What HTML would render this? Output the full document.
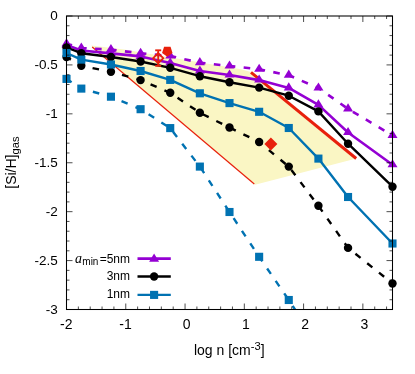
<!DOCTYPE html>
<html><head><meta charset="utf-8"><title>chart</title>
<style>
html,body{margin:0;padding:0;background:#fff;}
svg{display:block;will-change:transform;}
text{font-family:"Liberation Sans",sans-serif;fill:#000;}
</style></head><body>
<svg width="415" height="374" viewBox="0 0 415 374">
<rect width="415" height="374" fill="#fff"/>
<defs><clipPath id="c"><rect x="60" y="10" width="340" height="299.5"/></clipPath></defs>
<polygon points="92.2,47 91.4,45.6 124,49.4 205,63.2 241,69.2 250.8,71.9 356.4,158.6 255,184.8" fill="#faf6c4"/>
<line x1="92.2" y1="47" x2="254.3" y2="184" stroke="#e8200c" stroke-width="1.2"/>
<line x1="251" y1="72.3" x2="356.2" y2="158.5" stroke="#e8200c" stroke-width="3"/>
<g clip-path="url(#c)"><polyline points="66.5,43.8 81.32,48 110.95,49.6 140.59,53.3 170.23,56 199.86,62.7 229.5,66 259.14,69.3 288.77,75.2 318.41,88 348.05,108.9 392.5,135.4" fill="none" stroke="#9400d3" stroke-width="2.6" stroke-linejoin="round" stroke-dasharray="6.6 8.4" stroke-dashoffset="0.85"/>
<path d="M66.5,38.2 L71.5,46.3 L61.5,46.3 Z" fill="#9400d3"/>
<path d="M81.32,42.4 L86.32,50.5 L76.32,50.5 Z" fill="#9400d3"/>
<path d="M110.95,44 L115.95,52.1 L105.95,52.1 Z" fill="#9400d3"/>
<path d="M140.59,47.7 L145.59,55.8 L135.59,55.8 Z" fill="#9400d3"/>
<path d="M170.23,50.4 L175.23,58.5 L165.23,58.5 Z" fill="#9400d3"/>
<path d="M199.86,57.1 L204.86,65.2 L194.86,65.2 Z" fill="#9400d3"/>
<path d="M229.5,60.4 L234.5,68.5 L224.5,68.5 Z" fill="#9400d3"/>
<path d="M259.14,63.7 L264.14,71.8 L254.14,71.8 Z" fill="#9400d3"/>
<path d="M288.77,69.6 L293.77,77.7 L283.77,77.7 Z" fill="#9400d3"/>
<path d="M318.41,82.4 L323.41,90.5 L313.41,90.5 Z" fill="#9400d3"/>
<path d="M348.05,103.3 L353.05,111.4 L343.05,111.4 Z" fill="#9400d3"/>
<path d="M392.5,129.8 L397.5,137.9 L387.5,137.9 Z" fill="#9400d3"/>
<polyline points="66.5,57 81.32,65.8 110.95,71.8 140.59,80.1 170.23,92.8 199.86,112.8 229.5,127.5 259.14,142 288.77,166.6 318.41,205.8 348.05,247.9 392.5,283.5" fill="none" stroke="#000000" stroke-width="2.4" stroke-linejoin="round" stroke-dasharray="6.6 8.5" stroke-dashoffset="1.5"/>
<circle cx="66.5" cy="57" r="4.2" fill="#000000"/>
<circle cx="81.32" cy="65.8" r="4.2" fill="#000000"/>
<circle cx="110.95" cy="71.8" r="4.2" fill="#000000"/>
<circle cx="140.59" cy="80.1" r="4.2" fill="#000000"/>
<circle cx="170.23" cy="92.8" r="4.2" fill="#000000"/>
<circle cx="199.86" cy="112.8" r="4.2" fill="#000000"/>
<circle cx="229.5" cy="127.5" r="4.2" fill="#000000"/>
<circle cx="259.14" cy="142" r="4.2" fill="#000000"/>
<circle cx="288.77" cy="166.6" r="4.2" fill="#000000"/>
<circle cx="318.41" cy="205.8" r="4.2" fill="#000000"/>
<circle cx="348.05" cy="247.9" r="4.2" fill="#000000"/>
<circle cx="392.5" cy="283.5" r="4.2" fill="#000000"/>
<polyline points="66.5,78.9 81.32,88.6 110.95,96.7 140.59,109.2 170.23,128.1 199.86,166.6 229.5,212 259.14,256.8 288.77,300 318.41,345" fill="none" stroke="#0072b2" stroke-width="2.4" stroke-linejoin="round" stroke-dasharray="6.6 8.5" stroke-dashoffset="0.5"/>
<rect x="62.45" y="74.85" width="8.1" height="8.1" fill="#0072b2"/>
<rect x="77.27" y="84.55" width="8.1" height="8.1" fill="#0072b2"/>
<rect x="106.9" y="92.65" width="8.1" height="8.1" fill="#0072b2"/>
<rect x="136.54" y="105.15" width="8.1" height="8.1" fill="#0072b2"/>
<rect x="166.18" y="124.05" width="8.1" height="8.1" fill="#0072b2"/>
<rect x="195.81" y="162.55" width="8.1" height="8.1" fill="#0072b2"/>
<rect x="225.45" y="207.95" width="8.1" height="8.1" fill="#0072b2"/>
<rect x="255.09" y="252.75" width="8.1" height="8.1" fill="#0072b2"/>
<rect x="284.72" y="295.95" width="8.1" height="8.1" fill="#0072b2"/>
<rect x="314.36" y="340.95" width="8.1" height="8.1" fill="#0072b2"/></g>
<g clip-path="url(#c)"><polyline points="66.5,45 81.32,50.5 110.95,53.4 140.59,56.4 170.23,63 199.86,71 229.5,75 259.14,80.1 288.77,87.9 318.41,104.9 348.05,132.5 392.5,164.8" fill="none" stroke="#9400d3" stroke-width="2.6" stroke-linejoin="round"/>
<path d="M66.5,39.4 L71.5,47.5 L61.5,47.5 Z" fill="#9400d3"/>
<path d="M81.32,44.9 L86.32,53 L76.32,53 Z" fill="#9400d3"/>
<path d="M110.95,47.8 L115.95,55.9 L105.95,55.9 Z" fill="#9400d3"/>
<path d="M140.59,50.8 L145.59,58.9 L135.59,58.9 Z" fill="#9400d3"/>
<path d="M170.23,57.4 L175.23,65.5 L165.23,65.5 Z" fill="#9400d3"/>
<path d="M199.86,65.4 L204.86,73.5 L194.86,73.5 Z" fill="#9400d3"/>
<path d="M229.5,69.4 L234.5,77.5 L224.5,77.5 Z" fill="#9400d3"/>
<path d="M259.14,74.5 L264.14,82.6 L254.14,82.6 Z" fill="#9400d3"/>
<path d="M288.77,82.3 L293.77,90.4 L283.77,90.4 Z" fill="#9400d3"/>
<path d="M318.41,99.3 L323.41,107.4 L313.41,107.4 Z" fill="#9400d3"/>
<path d="M348.05,126.9 L353.05,135 L343.05,135 Z" fill="#9400d3"/>
<path d="M392.5,159.2 L397.5,167.3 L387.5,167.3 Z" fill="#9400d3"/>
<polyline points="66.5,47.5 81.32,53.2 110.95,57 140.59,61.5 170.23,67.8 199.86,76.2 229.5,82.2 259.14,87.6 288.77,95.7 318.41,111.4 348.05,143.7 392.5,186.7" fill="none" stroke="#000000" stroke-width="2.4" stroke-linejoin="round"/>
<circle cx="66.5" cy="47.5" r="4.2" fill="#000000"/>
<circle cx="81.32" cy="53.2" r="4.2" fill="#000000"/>
<circle cx="110.95" cy="57" r="4.2" fill="#000000"/>
<circle cx="140.59" cy="61.5" r="4.2" fill="#000000"/>
<circle cx="170.23" cy="67.8" r="4.2" fill="#000000"/>
<circle cx="199.86" cy="76.2" r="4.2" fill="#000000"/>
<circle cx="229.5" cy="82.2" r="4.2" fill="#000000"/>
<circle cx="259.14" cy="87.6" r="4.2" fill="#000000"/>
<circle cx="288.77" cy="95.7" r="4.2" fill="#000000"/>
<circle cx="318.41" cy="111.4" r="4.2" fill="#000000"/>
<circle cx="348.05" cy="143.7" r="4.2" fill="#000000"/>
<circle cx="392.5" cy="186.7" r="4.2" fill="#000000"/>
<polyline points="66.5,53 81.32,59.6 110.95,64.5 140.59,71 170.23,79.9 199.86,93.3 229.5,103.1 259.14,111.8 288.77,128 318.41,158.6 348.05,197 392.5,243.5" fill="none" stroke="#0072b2" stroke-width="2.4" stroke-linejoin="round"/>
<rect x="62.45" y="48.95" width="8.1" height="8.1" fill="#0072b2"/>
<rect x="77.27" y="55.55" width="8.1" height="8.1" fill="#0072b2"/>
<rect x="106.9" y="60.45" width="8.1" height="8.1" fill="#0072b2"/>
<rect x="136.54" y="66.95" width="8.1" height="8.1" fill="#0072b2"/>
<rect x="166.18" y="75.85" width="8.1" height="8.1" fill="#0072b2"/>
<rect x="195.81" y="89.25" width="8.1" height="8.1" fill="#0072b2"/>
<rect x="225.45" y="99.05" width="8.1" height="8.1" fill="#0072b2"/>
<rect x="255.09" y="107.75" width="8.1" height="8.1" fill="#0072b2"/>
<rect x="284.72" y="123.95" width="8.1" height="8.1" fill="#0072b2"/>
<rect x="314.36" y="154.55" width="8.1" height="8.1" fill="#0072b2"/>
<rect x="344" y="192.95" width="8.1" height="8.1" fill="#0072b2"/>
<rect x="388.45" y="239.45" width="8.1" height="8.1" fill="#0072b2"/></g>
<g stroke="#e8200c" stroke-width="1.85" fill="none"><line x1="158.2" y1="50.3" x2="158.2" y2="65.8"/><line x1="155.2" y1="50.3" x2="161.2" y2="50.3"/><line x1="155.2" y1="65.8" x2="161.2" y2="65.8"/><path d="M158.2,53.1 L163.29999999999998,58.2 L158.2,63.300000000000004 L153.1,58.2 Z"/></g>
<polygon points="167.3,56.8 162.07,53 164.07,46.85 170.53,46.85 172.53,53" fill="#e8200c"/>
<path d="M270.9,137.6 L277.4,144.1 L270.9,150.6 L264.4,144.1 Z" fill="#e8200c"/>
<path d="M66.5,309.5 v-6 M66.5,16.0 v6 M78.35,309.5 v-3 M78.35,16.0 v3 M90.21,309.5 v-3 M90.21,16.0 v3 M102.06,309.5 v-3 M102.06,16.0 v3 M113.92,309.5 v-3 M113.92,16.0 v3 M125.77,309.5 v-6 M125.77,16.0 v6 M137.63,309.5 v-3 M137.63,16.0 v3 M149.48,309.5 v-3 M149.48,16.0 v3 M161.34,309.5 v-3 M161.34,16.0 v3 M173.19,309.5 v-3 M173.19,16.0 v3 M185.05,309.5 v-6 M185.05,16.0 v6 M196.9,309.5 v-3 M196.9,16.0 v3 M208.75,309.5 v-3 M208.75,16.0 v3 M220.61,309.5 v-3 M220.61,16.0 v3 M232.46,309.5 v-3 M232.46,16.0 v3 M244.32,309.5 v-6 M244.32,16.0 v6 M256.17,309.5 v-3 M256.17,16.0 v3 M268.03,309.5 v-3 M268.03,16.0 v3 M279.88,309.5 v-3 M279.88,16.0 v3 M291.74,309.5 v-3 M291.74,16.0 v3 M303.59,309.5 v-6 M303.59,16.0 v6 M315.45,309.5 v-3 M315.45,16.0 v3 M327.3,309.5 v-3 M327.3,16.0 v3 M339.15,309.5 v-3 M339.15,16.0 v3 M351.01,309.5 v-3 M351.01,16.0 v3 M362.86,309.5 v-6 M362.86,16.0 v6 M374.72,309.5 v-3 M374.72,16.0 v3 M386.57,309.5 v-3 M386.57,16.0 v3 M66.5,16 h6 M392.5,16 h-6 M66.5,25.78 h3 M392.5,25.78 h-3 M66.5,35.57 h3 M392.5,35.57 h-3 M66.5,45.35 h3 M392.5,45.35 h-3 M66.5,55.13 h3 M392.5,55.13 h-3 M66.5,64.92 h6 M392.5,64.92 h-6 M66.5,74.7 h3 M392.5,74.7 h-3 M66.5,84.48 h3 M392.5,84.48 h-3 M66.5,94.27 h3 M392.5,94.27 h-3 M66.5,104.05 h3 M392.5,104.05 h-3 M66.5,113.83 h6 M392.5,113.83 h-6 M66.5,123.62 h3 M392.5,123.62 h-3 M66.5,133.4 h3 M392.5,133.4 h-3 M66.5,143.18 h3 M392.5,143.18 h-3 M66.5,152.97 h3 M392.5,152.97 h-3 M66.5,162.75 h6 M392.5,162.75 h-6 M66.5,172.53 h3 M392.5,172.53 h-3 M66.5,182.32 h3 M392.5,182.32 h-3 M66.5,192.1 h3 M392.5,192.1 h-3 M66.5,201.88 h3 M392.5,201.88 h-3 M66.5,211.67 h6 M392.5,211.67 h-6 M66.5,221.45 h3 M392.5,221.45 h-3 M66.5,231.23 h3 M392.5,231.23 h-3 M66.5,241.02 h3 M392.5,241.02 h-3 M66.5,250.8 h3 M392.5,250.8 h-3 M66.5,260.58 h6 M392.5,260.58 h-6 M66.5,270.37 h3 M392.5,270.37 h-3 M66.5,280.15 h3 M392.5,280.15 h-3 M66.5,289.93 h3 M392.5,289.93 h-3 M66.5,299.72 h3 M392.5,299.72 h-3 M66.5,309.5 h6 M392.5,309.5 h-6" stroke="#000" stroke-width="0.7" fill="none"/>
<rect x="66.5" y="16.0" width="326.0" height="293.5" fill="none" stroke="#000" stroke-width="1.05"/>
<text x="57.8" y="20" text-anchor="end" font-size="13.5">0</text>
<text x="57.8" y="68.92" text-anchor="end" font-size="13.5">-0.5</text>
<text x="57.8" y="117.83" text-anchor="end" font-size="13.5">-1</text>
<text x="57.8" y="166.75" text-anchor="end" font-size="13.5">-1.5</text>
<text x="57.8" y="215.67" text-anchor="end" font-size="13.5">-2</text>
<text x="57.8" y="264.58" text-anchor="end" font-size="13.5">-2.5</text>
<text x="57.8" y="313.5" text-anchor="end" font-size="13.5">-3</text>
<text x="66.2" y="329.2" text-anchor="middle" font-size="14">-2</text>
<text x="125.47" y="329.2" text-anchor="middle" font-size="14">-1</text>
<text x="186.65" y="329.2" text-anchor="middle" font-size="14">0</text>
<text x="245.92" y="329.2" text-anchor="middle" font-size="14">1</text>
<text x="305.19" y="329.2" text-anchor="middle" font-size="14">2</text>
<text x="364.46" y="329.2" text-anchor="middle" font-size="14">3</text>
<text x="229.3" y="355.3" text-anchor="middle" font-size="14">log n [cm<tspan font-size="11.2" dy="-5">-3</tspan><tspan dy="5">]</tspan></text>
<text transform="translate(16.1,162.6) rotate(-90)" text-anchor="middle" font-size="14">[Si/H]<tspan font-size="11.2" dy="3">gas</tspan></text>
<line x1="137.5" y1="258.6" x2="170.8" y2="258.6" stroke="#9400d3" stroke-width="2.6"/>
<path d="M154.1,253.6 L159.1,261.7 L149.1,261.7 Z" fill="#9400d3"/>
<line x1="137.5" y1="276.5" x2="170.8" y2="276.5" stroke="#000000" stroke-width="2.4"/>
<circle cx="154.1" cy="276.5" r="4.2" fill="#000000"/>
<text x="130" y="280" text-anchor="end" font-size="12">3nm</text>
<line x1="137.5" y1="294.9" x2="170.8" y2="294.9" stroke="#0072b2" stroke-width="2.4"/>
<rect x="150.05" y="290.85" width="8.1" height="8.1" fill="#0072b2"/>
<text x="130" y="298.3" text-anchor="end" font-size="12">1nm</text>
<text x="75.0" y="262.6" style="font-family:'Liberation Serif',serif;font-style:italic" font-size="14">a</text>
<text x="82.3" y="264.7" font-size="10">min</text>
<text x="130" y="262.6" text-anchor="end" font-size="12">=5nm</text>
</svg>
</body></html>
